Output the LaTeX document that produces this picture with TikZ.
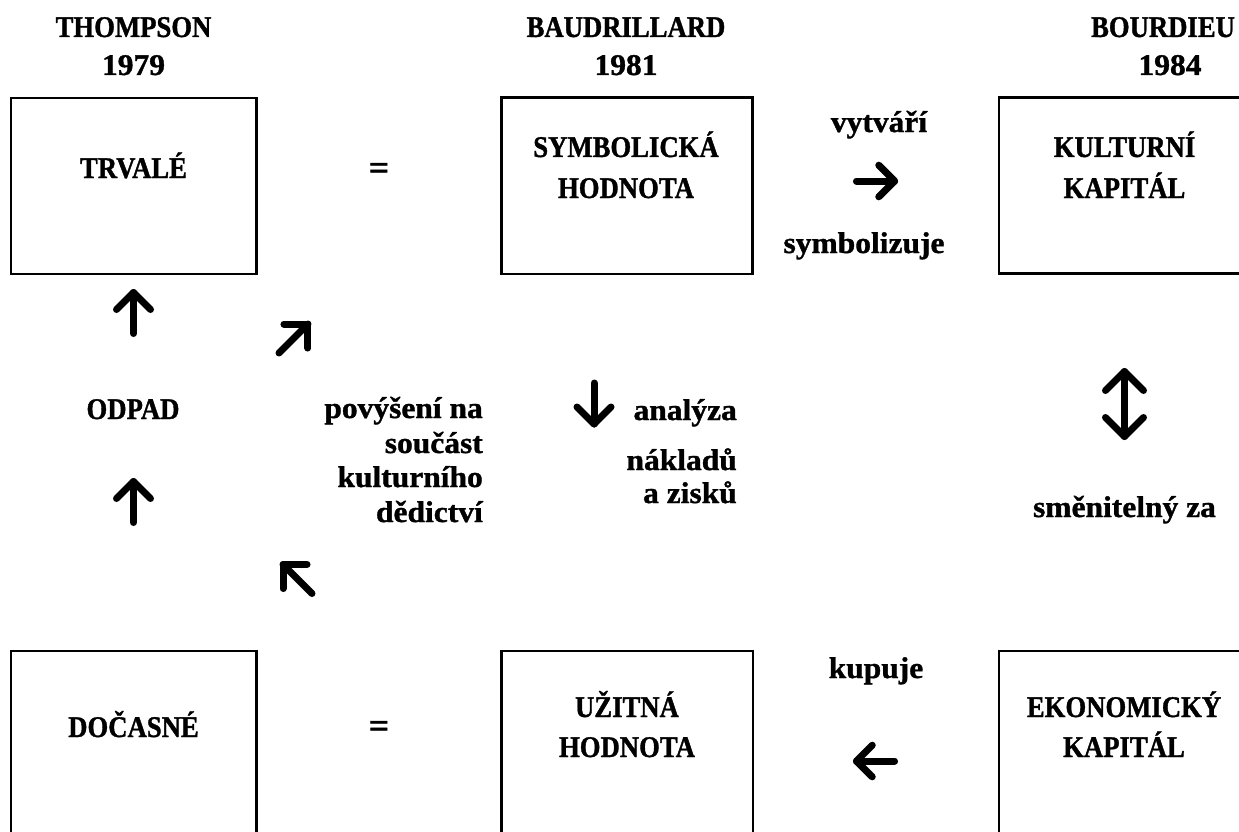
\documentclass[tikz,border=0pt]{standalone}
\usepackage{fontspec}
\newfontfamily\capf{Liberation Serif}[FakeStretch=0.89,BoldFeatures={FakeBold=1.2}]
\newfontfamily\lowf{Liberation Serif}[FakeStretch=1.05,BoldFeatures={FakeBold=1.2}]
\begin{document}
\begin{tikzpicture}[x=1pt,y=-1pt,
  capt/.style={font=\capf\bfseries\fontsize{30}{36}\selectfont, inner sep=0pt, anchor=base},
  lowt/.style={font=\lowf\bfseries\fontsize{30}{36}\selectfont, inner sep=0pt, anchor=base},
  eqt/.style={font=\lowf\bfseries\fontsize{34}{36}\selectfont, inner sep=0pt, anchor=base},
  boxline/.style={draw=black, line width=2.2pt},
  arw/.style={line width=7pt, line cap=round, line join=round},
  uparrow/.pic={\draw[arw] (0,20.5) -- (0,-20.5); \draw[arw] (-17,-3.5) -- (0,-20.5) -- (17,-3.5);},
  updown/.pic={\draw[arw] (0,32.5) -- (0,-32.5); \draw[arw] (-19,-13.5) -- (0,-32.5) -- (19,-13.5); \draw[arw] (-19,13.5) -- (0,32.5) -- (19,13.5);}
]
\path[use as bounding box] (0,0) rectangle (1239,832);
\begin{scope}
\clip (0,0) rectangle (1239,832);
\draw[boxline] (11,98) rectangle (256.5,274);
\draw[boxline] (501.5,97.5) rectangle (752.5,274);
\draw[boxline] (999,97.5) rectangle (1260,273.5);
\draw[boxline] (11,651) rectangle (256.5,850);
\draw[boxline] (501.5,651) rectangle (753,850);
\draw[boxline] (999,651) rectangle (1260,850);
\end{scope}
% headers
\node[capt] (h1) at (133.5,37) {THOMPSON};
\node[lowt] (y1) at (133.5,75) {1979};
\node[capt] (h2) at (626,37) {BAUDRILLARD};
\node[lowt] (y2) at (626,75) {1981};
\node[capt] (h3) at (1163,37) {BOURDIEU};
\node[lowt] (y3) at (1170,75) {1984};
% top row
\node[capt] (trv) at (133.5,178) {TRVALÉ};
\node[eqt] (eq1) at (379,179) {=};
\node[capt] (sym1) at (626,157) {SYMBOLICKÁ};
\node[capt] (sym2) at (626,198) {HODNOTA};
\node[lowt] (vyt) at (879,132) {vytváří};
\node[lowt] (symb) at (864,253) {symbolizuje};
\node[capt] (kul1) at (1124.5,157) {KULTURNÍ};
\node[capt] (kul2) at (1124.5,198) {KAPITÁL};
% middle
\node[capt] (odp) at (133,419) {ODPAD};
\node[lowt, anchor=base east] (pv1) at (483,418) {povýšení na};
\node[lowt, anchor=base east] (pv2) at (483,453) {součást};
\node[lowt, anchor=base east] (pv3) at (483,487) {kulturního};
\node[lowt, anchor=base east] (pv4) at (483,522) {dědictví};
\node[lowt, anchor=base east] (an1) at (737,420) {analýza};
\node[lowt, anchor=base east] (an2) at (737,470) {nákladů};
\node[lowt, anchor=base east] (an3) at (737,503) {a zisků};
\node[lowt] (smn) at (1124.5,517) {směnitelný za};
% bottom row
\node[lowt] (kup) at (876,678) {kupuje};
\node[capt] (doc) at (133.5,737) {DOČASNÉ};
\node[eqt] (eq2) at (379,737) {=};
\node[capt] (uz1) at (627,717) {UŽITNÁ};
\node[capt] (uz2) at (627,757) {HODNOTA};
\node[capt] (ek1) at (1124,717) {EKONOMICKÝ};
\node[capt] (ek2) at (1124,757) {KAPITÁL};
% arrows
\pic at (133.5,313) {uparrow};
\pic at (133.5,502) {uparrow};
\pic[rotate=-45] at (293.5,338.5) {uparrow};
\pic[rotate=45] at (297.5,579) {uparrow};
\pic[rotate=-90, scale=0.93] at (875.5,181) {uparrow};
\pic[rotate=180] at (594,403.5) {uparrow};
\pic[rotate=90, scale=0.93] at (875.5,761) {uparrow};
\pic at (1124.5,404) {updown};
\end{tikzpicture}
\end{document}
